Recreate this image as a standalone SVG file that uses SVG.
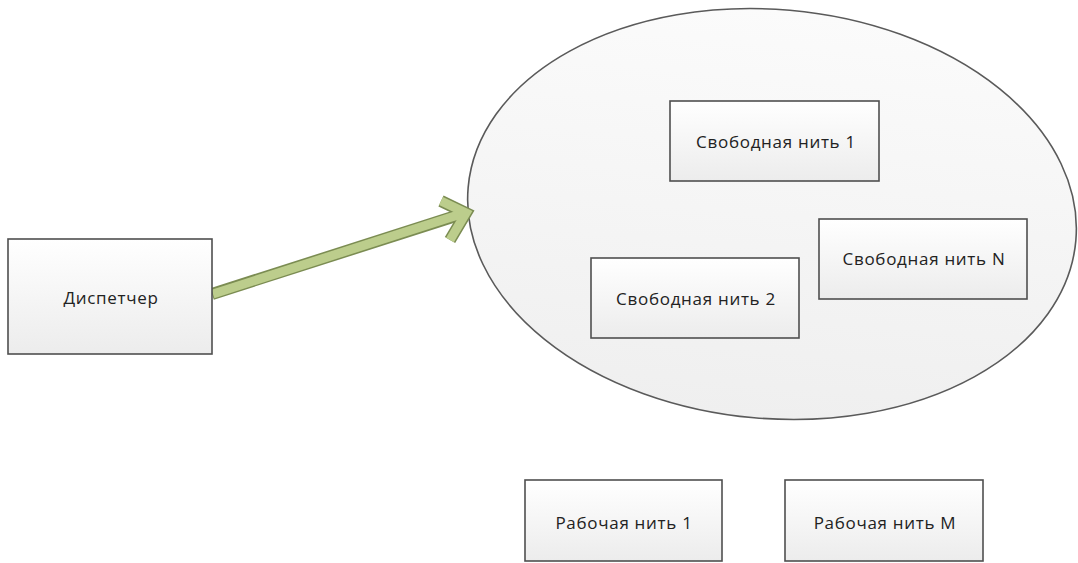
<svg xmlns="http://www.w3.org/2000/svg" width="1078" height="563" viewBox="0 0 1078 563">
<defs>
<linearGradient id="boxg" x1="0" y1="0" x2="0" y2="1">
<stop offset="0" stop-color="#ffffff"/>
<stop offset="1" stop-color="#ececec"/>
</linearGradient>
<linearGradient id="ellg" x1="0" y1="0" x2="0" y2="1">
<stop offset="0" stop-color="#fbfbfb"/>
<stop offset="1" stop-color="#efefef"/>
</linearGradient>
<style>
.box{fill:url(#boxg);stroke:#4f4f4f;stroke-width:1.6}
.lbl{font-family:"Open Sans","DejaVu Sans",sans-serif;font-size:17px;letter-spacing:0.7px;fill:#222222;text-anchor:middle;dominant-baseline:central}
.arrOut{fill:none;stroke:#7b8c52;stroke-width:12;stroke-linejoin:miter;stroke-linecap:butt}
.arrIn{fill:none;stroke:#bccd8c;stroke-width:9;stroke-linejoin:miter;stroke-linecap:butt}
</style>
</defs>
<rect width="1078" height="563" fill="#ffffff"/>
<g id="pool">
<ellipse cx="772" cy="214" rx="305" ry="204.5" transform="rotate(5 772 214)" fill="url(#ellg)" stroke="#5a5a5a" stroke-width="1.6"/>
</g>
<g id="connectors">
<path class="arrOut" d="M212,294 L462,214"/>
<path class="arrOut" d="M441,201 L466,213 L450,240"/>
<path class="arrIn" d="M213,294 L461,214"/>
<path class="arrIn" d="M441,201 L466,213 L450,240"/>
</g>
<g id="dispatcher">
<rect class="box" x="8" y="239" width="204" height="115"/>
<text class="lbl" x="111" y="297">Диспетчер</text>
</g>
<g id="free1">
<rect class="box" x="670" y="101" width="209" height="80"/>
<text class="lbl" x="776" y="141">Свободная нить 1</text>
</g>
<g id="free2">
<rect class="box" x="591" y="258" width="208" height="80"/>
<text class="lbl" x="696" y="298">Свободная нить 2</text>
</g>
<g id="freeN">
<rect class="box" x="819" y="219" width="208" height="80"/>
<text class="lbl" x="924" y="258">Свободная нить N</text>
</g>
<g id="work1">
<rect class="box" x="525" y="480" width="197" height="81"/>
<text class="lbl" x="624" y="522">Рабочая нить 1</text>
</g>
<g id="workM">
<rect class="box" x="785" y="480" width="198" height="81"/>
<text class="lbl" x="885" y="522">Рабочая нить M</text>
</g>
</svg>
